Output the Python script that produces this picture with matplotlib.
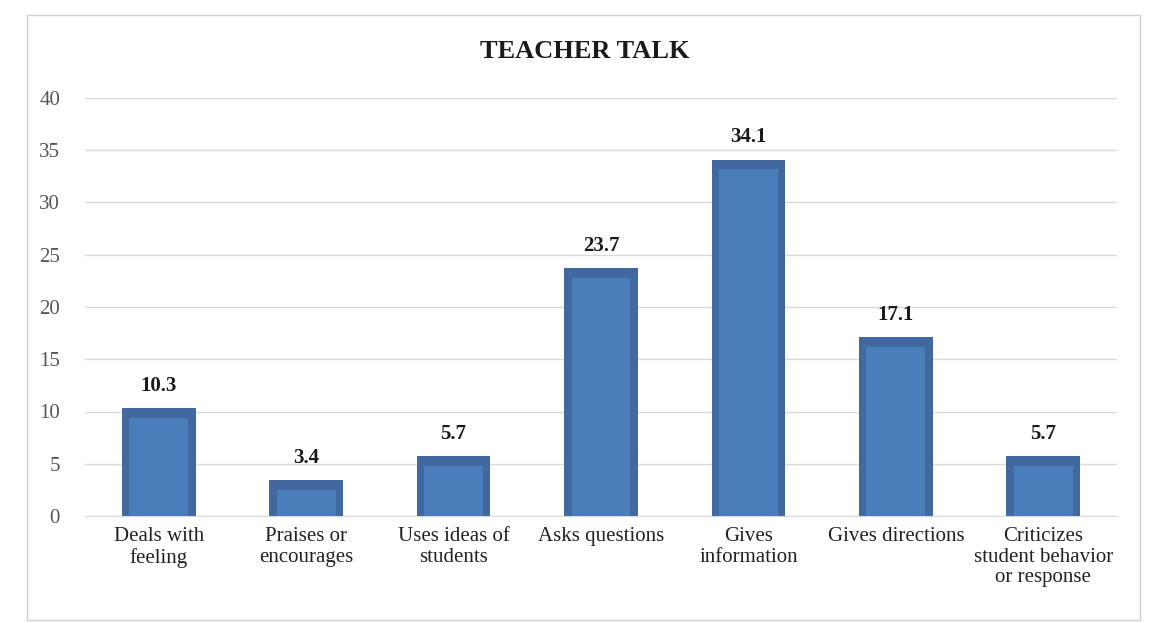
import matplotlib
matplotlib.use("Agg")
import matplotlib.pyplot as plt
from matplotlib.patches import Rectangle

categories = ["Deals with\nfeeling", "Praises or\nencourages", "Uses ideas of\nstudents",
              "Asks questions", "Gives\ninformation", "Gives directions",
              "Criticizes\nstudent behavior\nor response"]
values = [10.3, 3.4, 5.7, 23.7, 34.1, 17.1, 5.7]
title = "TEACHER TALK"

plt.rcParams['font.family'] = ['Liberation Serif', 'DejaVu Serif']
fig = plt.figure(figsize=(11.64, 6.23), dpi=100)
fig.patches.append(Rectangle((27/1164, 3/623), 1113/1164, 605/623, transform=fig.transFigure,
                             fill=False, edgecolor='#d0d0d0', linewidth=1))
ax = fig.add_axes([85/1164, 107/623, 1032/1164, 418/623])
x = list(range(len(values)))
ax.bar(x, values, width=0.5, color='#41689f', zorder=2)
ax.bar(x, [v - 0.9 for v in values], width=0.4, color='#4a7ebb', zorder=3)
for xi, v in zip(x, values):
    ax.text(xi, v + 1.2, f"{v}", ha='center', va='bottom', fontsize=15, fontweight='bold', color='#1a1a1a')
ax.set_ylim(0, 40)
ax.set_xlim(-0.5, len(values) - 0.5)
ax.set_yticks(range(0, 41, 5))
ax.yaxis.grid(True, color='#d9d9d9', linewidth=1, zorder=0)
ax.set_xticks(x)
ax.set_xticklabels(categories, fontsize=15, color='#222222', linespacing=1.1)
ax.tick_params(axis='y', labelsize=15, colors='#555555', length=0, pad=18)
ax.tick_params(axis='x', length=0, pad=8)
for s in ['top', 'right', 'left']:
    ax.spines[s].set_visible(False)
ax.spines['bottom'].set_color('#d9d9d9')
fig.text(585/1164, 572/623, title, ha='center', va='center', fontsize=19, fontweight='bold',
         color='#1a1a1a')
fig.savefig("out.png", dpi=100)
